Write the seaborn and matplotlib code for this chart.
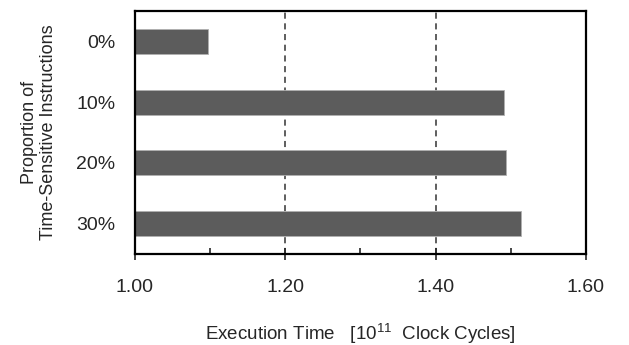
import pandas as pd
import matplotlib
matplotlib.use("Agg")
import matplotlib.pyplot as plt
import seaborn as sns

# data
proportions = ["0%", "10%", "20%", "30%"]
exec_time = [1.097, 1.491, 1.494, 1.514]
x_ticks = [1.00, 1.20, 1.40, 1.60]

df = pd.DataFrame({"proportion": proportions, "time": exec_time})

sns.set_style("white")
plt.rcParams["font.family"] = ["Liberation Sans", "DejaVu Sans"]
plt.rcParams["mathtext.fontset"] = "custom"
plt.rcParams["mathtext.rm"] = "Liberation Sans"
plt.rcParams["mathtext.it"] = "Liberation Sans"

fig = plt.figure(figsize=(6.29, 3.45), dpi=100)
ax = fig.add_axes([0.2146, 0.2638, 0.717, 0.704])

sns.barplot(data=df, x="time", y="proportion", orient="h", color="#5c5c5c",
            width=0.41, saturation=1, edgecolor="#b0b0b0", linewidth=0.6, ax=ax)

ax.set_xlim(1.0, 1.6)
ax.set_ylim(3.5, -0.5)
ax.set_xticks(x_ticks)
ax.set_xticklabels([f"{t:.2f}" for t in x_ticks], fontsize=14)
ax.set_xticks([1.1, 1.3, 1.5], minor=True)
ax.tick_params(axis="x", which="major", direction="inout", length=8, width=1.2,
               bottom=True, pad=14)
ax.tick_params(axis="x", which="minor", direction="in", length=4, width=1.2,
               bottom=True)
ax.tick_params(axis="y", length=0, labelsize=14, pad=14)

for t in x_ticks[1:-1]:
    ax.axvline(t, color="#333333", linestyle=(0, (4, 3)), linewidth=1.1, zorder=0)

for s in ax.spines.values():
    s.set_visible(True)
    s.set_color("black")
    s.set_linewidth(1.6)

ax.set_xlabel("Execution Time   [10$^{11}$  Clock Cycles]", fontsize=13.5, labelpad=19)
ax.set_ylabel("Proportion of\nTime-Sensitive Instructions", fontsize=13,
              labelpad=14, linespacing=1.15)

fig.savefig("out.png", dpi=100)
plt.close(fig)
